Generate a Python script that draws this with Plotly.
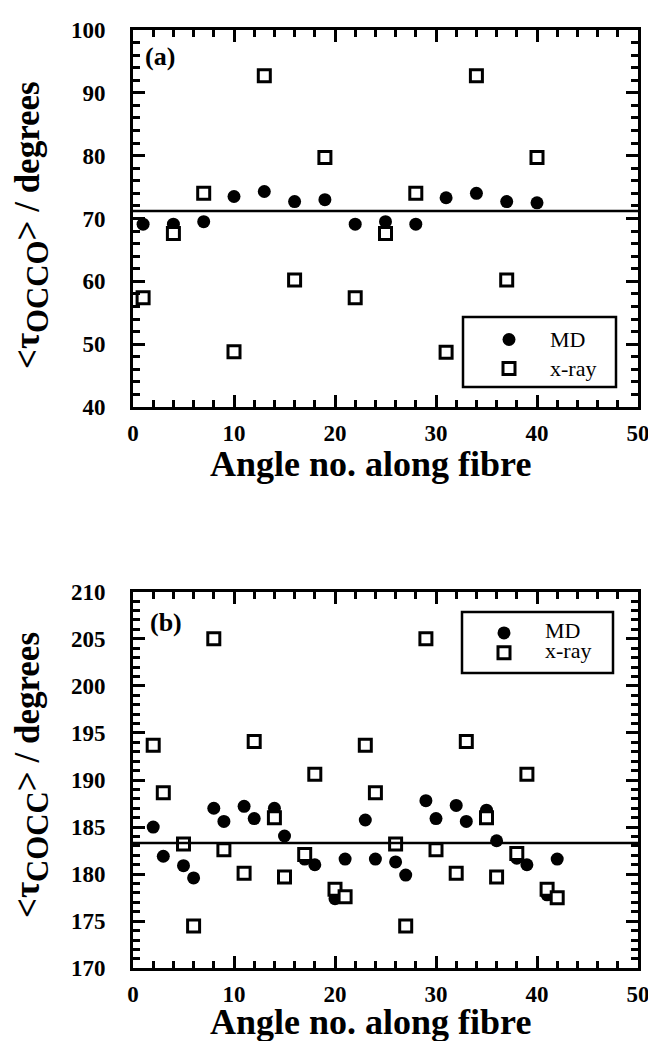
import plotly.graph_objects as go

# ---- data -------------------------------------------------------------
# (a) OCCO torsion angles
occo_angle = [1, 4, 7, 10, 13, 16, 19, 22, 25, 28, 31, 34, 37, 40]
occo_md = [69.1, 69.1, 69.5, 73.5, 74.3, 72.7, 73.0, 69.1, 69.5, 69.1, 73.3, 74.0, 72.7, 72.5]
occo_xray = [57.4, 67.6, 74.0, 48.8, 92.7, 60.2, 79.7, 57.4, 67.6, 74.0, 48.7, 92.7, 60.2, 79.7]
occo_ref = 71.2

# (b) COCC torsion angles
cocc_angle = [2, 3, 5, 6, 8, 9, 11, 12, 14, 15, 17, 18, 20, 21,
              23, 24, 26, 27, 29, 30, 32, 33, 35, 36, 38, 39, 41, 42]
cocc_md = [185.0, 181.9, 180.9, 179.6, 187.0, 185.6, 187.2, 185.9, 187.0, 184.05, 181.6, 181.0, 177.4, 181.6,
           185.75, 181.6, 181.3, 179.9, 187.8, 185.9, 187.3, 185.6, 186.8, 183.55, 181.7, 181.0, 177.8, 181.6]
cocc_xray = [193.7, 188.65, 183.2, 174.5, 205.0, 182.6, 180.1, 194.1, 186.0, 179.7, 182.1, 190.6, 178.4, 177.6,
             193.7, 188.65, 183.2, 174.5, 205.0, 182.6, 180.1, 194.1, 186.0, 179.7, 182.2, 190.6, 178.4, 177.5]
cocc_ref = 183.3

series_names = ["MD", "x-ray"]

x_range = [0, 50]
occo_range = [40, 100]
cocc_range = [170, 210]

FONT = "Liberation Serif, Times New Roman, serif"
W, H = 648, 1041


def px_x(p):
    return p / W


def px_y(p):
    return 1 - p / H


def legend_label(name):
    # full-size legend text while the legend row height follows the legend font
    return '<span style="font-size:22px">{}</span>'.format(name)


fig = go.Figure()

circle = dict(symbol="circle", size=13, color="black", line=dict(width=0))
square = dict(symbol="square", size=12, color="white", line=dict(width=3, color="black"))

panels = [
    (occo_angle, occo_md, occo_xray, "x", "y", "legend"),
    (cocc_angle, cocc_md, cocc_xray, "x2", "y2", "legend2"),
]
for ang, md, xray, xa, ya, leg in panels:
    fig.add_trace(go.Scatter(x=ang, y=md, mode="markers", name=legend_label(series_names[0]),
                             marker=circle, xaxis=xa, yaxis=ya, legend=leg))
    fig.add_trace(go.Scatter(x=ang, y=xray, mode="markers", name=legend_label(series_names[1]),
                             marker=square, xaxis=xa, yaxis=ya, legend=leg))

tickfont = dict(family=FONT, size=23, color="black", weight="bold")


def axis_style(rng, dtick, minor_dtick, domain, anchor, standoff):
    return dict(range=rng, dtick=dtick, tick0=0, domain=domain, anchor=anchor,
                automargin=False, ticklabeloverflow="allow",
                showline=True, linewidth=3, linecolor="black", mirror="ticks",
                ticks="inside", ticklen=12, tickwidth=2.5, tickcolor="black",
                minor=dict(ticks="inside", ticklen=7, tickwidth=2.5, tickcolor="black",
                           dtick=minor_dtick, tick0=0, showgrid=False),
                showgrid=False, zeroline=False, tickfont=tickfont,
                ticklabelstandoff=standoff)


xdom = [px_x(133), px_x(638)]
fig.update_layout(
    xaxis=axis_style(x_range, 10, 2, xdom, "y", 3),
    yaxis=axis_style(occo_range, 10, 2, [px_y(407), px_y(30)], "x", 20),
    xaxis2=axis_style(x_range, 10, 2, xdom, "y2", 3),
    yaxis2=axis_style(cocc_range, 5, 1, [px_y(968.3), px_y(591.7)], "x2", 20),
)

# horizontal reference lines
fig.add_shape(type="line", xref="x domain", yref="y", x0=0, x1=1, y0=occo_ref, y1=occo_ref,
              line=dict(color="black", width=2.5))
fig.add_shape(type="line", xref="x2 domain", yref="y2", x0=0, x1=1, y0=cocc_ref, y1=cocc_ref,
              line=dict(color="black", width=2.5))

# legend frames
for (x0, y0, x1, y1) in ((463, 317, 616, 387), (462, 612, 613, 673)):
    fig.add_shape(type="rect", xref="paper", yref="paper",
                  x0=px_x(x0), x1=px_x(x1), y0=px_y(y1), y1=px_y(y0),
                  line=dict(color="black", width=2.5), fillcolor="rgba(0,0,0,0)")

legend_common = dict(xanchor="left", yanchor="top", bgcolor="rgba(0,0,0,0)", borderwidth=0,
                     itemwidth=72, tracegroupgap=0)
fig.update_layout(
    legend=dict(x=px_x(468), y=px_y(320), font=dict(family=FONT, size=20, color="black"),
                **legend_common),
    legend2=dict(x=px_x(463), y=px_y(618), font=dict(family=FONT, size=13, color="black"),
                 **legend_common),
)


def y_title(sub):
    return ('<b>&lt;τ<span style="font-size:44px"><sub>{}</sub></span>&gt; / degrees</b>'
            .format(sub))


annotations = [
    dict(text="<b>(a)</b>", x=px_x(143), y=px_y(57), xanchor="left", yanchor="middle",
         font=dict(family=FONT, size=26, color="black")),
    dict(text="<b>(b)</b>", x=px_x(148), y=px_y(622), xanchor="left", yanchor="middle",
         font=dict(family=FONT, size=26, color="black")),
    dict(text="<b>Angle no. along fibre</b>", x=px_x(370), y=px_y(464), xanchor="center",
         yanchor="middle", font=dict(family=FONT, size=36, color="black")),
    dict(text="<b>Angle no. along fibre</b>", x=px_x(370), y=px_y(1022), xanchor="center",
         yanchor="middle", font=dict(family=FONT, size=36, color="black")),
    dict(text=y_title("OCCO"), x=px_x(31), y=px_y(225),
         xanchor="center", yanchor="middle", textangle=-90,
         font=dict(family=FONT, size=35, color="black")),
    dict(text=y_title("COCC"), x=px_x(31), y=px_y(775),
         xanchor="center", yanchor="middle", textangle=-90,
         font=dict(family=FONT, size=35, color="black")),
]
for a in annotations:
    a.update(xref="paper", yref="paper", showarrow=False)

fig.update_layout(annotations=annotations)

fig.update_layout(width=W, height=H, margin=dict(l=0, r=0, t=0, b=0, autoexpand=False),
                  paper_bgcolor="white", plot_bgcolor="white", showlegend=True)

fig.write_html("out.html")
